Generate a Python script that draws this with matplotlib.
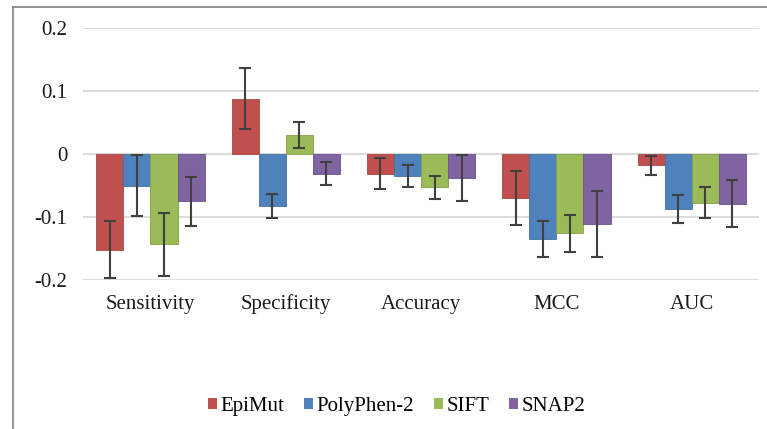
import numpy as np
import matplotlib
matplotlib.use('Agg')
import matplotlib.pyplot as plt
from matplotlib.lines import Line2D

categories = ['Sensitivity', 'Specificity', 'Accuracy', 'MCC', 'AUC']
series = ['EpiMut', 'PolyPhen-2', 'SIFT', 'SNAP2']
colors = ['#C0504D', '#4F81BD', '#9BBB59', '#8064A2']
edges = ['#A84542', '#41719C', '#84A04A', '#6A5289']

# mean differences per metric, one list per method
epimut = [-0.152, 0.088, -0.031, -0.070, -0.018]
polyphen = [-0.050, -0.082, -0.035, -0.135, -0.087]
sift = [-0.143, 0.030, -0.053, -0.126, -0.077]
snap2 = [-0.075, -0.031, -0.038, -0.111, -0.079]

# error bar half-widths
epimut_err = [0.045, 0.049, 0.025, 0.043, 0.015]
polyphen_err = [0.048, 0.019, 0.017, 0.028, 0.022]
sift_err = [0.050, 0.021, 0.018, 0.029, 0.024]
snap2_err = [0.039, 0.018, 0.037, 0.052, 0.037]

values = [epimut, polyphen, sift, snap2]
errors = [epimut_err, polyphen_err, sift_err, snap2_err]

plt.rcParams['font.family'] = ['Liberation Serif', 'DejaVu Serif']

fig = plt.figure(figsize=(7.67, 4.29), dpi=100)
ax = fig.add_axes([0.108, 0.347, 0.882, 0.588])

x = np.arange(len(categories))
width = 0.2
for i, (vals, errs) in enumerate(zip(values, errors)):
    pos = x + (i - 1.5) * width
    ax.bar(pos, vals, width, color=colors[i], edgecolor=edges[i], linewidth=0.6,
           label=series[i], zorder=3)
    ax.errorbar(pos, vals, yerr=errs, fmt='none', ecolor='#404040',
                elinewidth=1.5, capsize=4.5, capthick=1.5, zorder=4)

ax.set_xlim(-0.5, len(categories) - 0.5)
ax.set_ylim(-0.2, 0.2)
ax.set_yticks([-0.2, -0.1, 0, 0.1, 0.2])
ax.set_yticklabels(['-0.2', '-0.1', '0', '0.1', '0.2'])
ax.set_xticks(x)
ax.set_xticklabels(categories)
ax.tick_params(axis='y', length=0, pad=11, labelsize=15, labelcolor='#1a1a1a')
ax.tick_params(axis='x', length=0, pad=21, labelsize=15, labelcolor='#1a1a1a')
for lbl in ax.get_xticklabels():
    lbl.set_verticalalignment('baseline')
ax.grid(axis='y', color='#D9D9D9', linewidth=1.3, zorder=0)
for s in ax.spines.values():
    s.set_visible(False)

leg = fig.legend(loc='center', bbox_to_anchor=(0.517, 0.053), ncol=4, frameon=False,
                 fontsize=15, handlelength=0.45, handleheight=0.45,
                 handletextpad=0.15, columnspacing=0.95)
for h in leg.legend_handles:
    h.set_edgecolor('none')

# outer frame: only left and top edges are visible
fig.add_artist(Line2D([0.017, 0.017], [0, 0.984], color='#808080', linewidth=1.2))
fig.add_artist(Line2D([0.017, 1.0], [0.984, 0.984], color='#808080', linewidth=1.2))

fig.savefig('out.png', dpi=100)
